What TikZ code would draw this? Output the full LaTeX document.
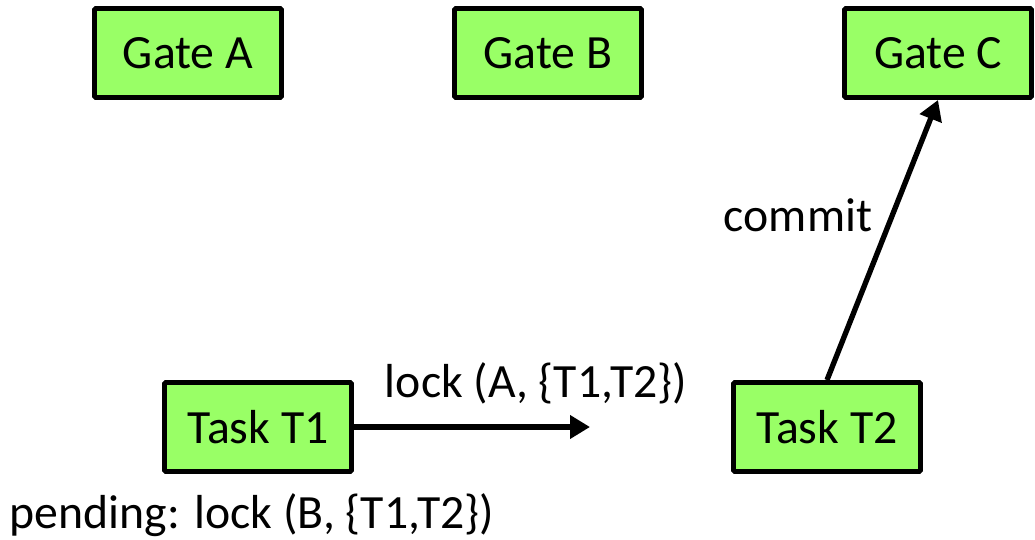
\documentclass[tikz,border=0pt]{standalone}
\usepackage{fontspec}
\setmainfont{Carlito}
\definecolor{boxgreen}{HTML}{99FF66}
\tikzset{
    box/.style={draw=black, line width=3.7pt, fill=boxgreen, rounded corners=1pt,
        minimum width=187*0.75pt, minimum height=89*0.75pt, inner sep=0pt},
    link/.style={line width=4pt, -{Triangle[length=15pt,width=17pt]}}
}
\usetikzlibrary{arrows.meta}
\begin{document}
\begin{tikzpicture}[x=0.75pt,y=-0.75pt,font=\fontsize{35.8}{42}\selectfont]
        \useasboundingbox (0,0) rectangle (1035,539);
        \foreach \Name/\X in {A/188, B/548, C/938}{
            \node[box] (gate\Name) at (\X, 53) {Gate \Name};
        }
        \node[box] (t1) at (258, 427) {Task T1};
        \node[box] (t2) at (827, 427) {Task T2};
        \coordinate (lockend) at (590, 427);
        \draw[link] (t1) -- (lockend);
        \draw[link] (t2.north) -- (gateC.south);
        \node at (536, 383) {lock (A, \{T1,T2\})};
        \node at (798, 215) {commit};
        \node at (252, 515) {pending: lock (B, \{T1,T2\})};
    \end{tikzpicture}
\end{document}
